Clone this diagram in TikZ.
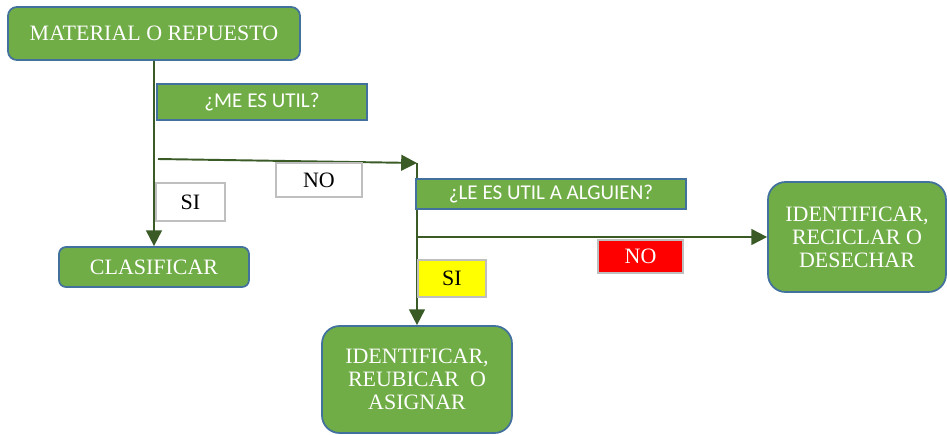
\documentclass[tikz,border=0pt]{standalone}
\usepackage{fontspec}
\setmainfont{Liberation Serif}
\newfontfamily\calfont{Carlito}
\usepackage{xcolor}
\usepackage{tikz}
\usetikzlibrary{arrows.meta, positioning, calc}

\definecolor{boxgreen}{HTML}{70AD47}
\definecolor{boxblue}{HTML}{41719C}
\definecolor{linegreen}{HTML}{3A5A26}
\definecolor{tagred}{HTML}{FF0000}
\definecolor{tagyellow}{HTML}{FFFF00}

\begin{document}
\begin{tikzpicture}[
    x=0.02cm, y=-0.02cm,
    actbox/.style={draw=boxblue, line width=1pt, fill=boxgreen, text=white, align=center, inner sep=0pt, font=\fontsize{12.5}{13}\selectfont},
    askbox/.style={draw=boxblue, line width=1pt, fill=boxgreen, text=white, inner sep=0pt, font=\calfont\fontsize{12}{14}\selectfont},
    tag/.style={draw=black!25, line width=0.9pt, fill=white, inner sep=0pt, font=\fontsize{12.5}{14}\selectfont},
    flow/.style={draw=linegreen, line width=1.1pt, -{Triangle[length=9pt,width=9pt]}}
]
    \useasboundingbox (0,0) rectangle (947,434);

    % action boxes
    \node[actbox, rounded corners=5pt, minimum width=5.84cm, minimum height=1.06cm] (material) at (154, 33.5) {MATERIAL O REPUESTO};
    \node[actbox, rounded corners=4pt, minimum width=3.8cm, minimum height=0.8cm] (clasificar) at (154, 267) {CLASIFICAR};
    \node[actbox, rounded corners=10pt, minimum width=3.56cm, minimum height=2.2cm] (reciclar) at (857, 237) {IDENTIFICAR,\\RECICLAR O\\DESECHAR};
    \node[actbox, rounded corners=10pt, minimum width=3.8cm, minimum height=2.14cm] (reubicar) at (417, 379.5) {IDENTIFICAR,\\REUBICAR\ \ O\\ASIGNAR};

    % connectors
    \coordinate (nostart) at (158, 159);
    \coordinate (split) at (417, 163);
    \coordinate (branch) at (417, 237);
    \draw[flow] (material.south) -- (clasificar.north);
    \draw[flow] (nostart) -- (split);
    \draw[flow] (split) -- (reubicar.north);
    \draw[flow] (branch) -- (reciclar.west);

    % questions
    \node[askbox, minimum width=4.2cm, minimum height=0.72cm] (meutil) at (262, 102) {¿ME ES UTIL?};
    \node[askbox, minimum width=5.4cm, minimum height=0.6cm] (leutil) at (551, 194) {¿LE ES UTIL A ALGUIEN?};

    % answers
    \node[tag, minimum width=1.72cm, minimum height=0.68cm] (no1) at (319, 180) {NO};
    \node[tag, minimum width=1.38cm, minimum height=0.76cm] (si1) at (190.5, 202) {SI};
    \node[tag, fill=tagred, text=white, minimum width=1.7cm, minimum height=0.66cm] (no2) at (640.5, 256.5) {NO};
    \node[tag, fill=tagyellow, minimum width=1.36cm, minimum height=0.74cm] (si2) at (452, 278.5) {SI};
\end{tikzpicture}
\end{document}
